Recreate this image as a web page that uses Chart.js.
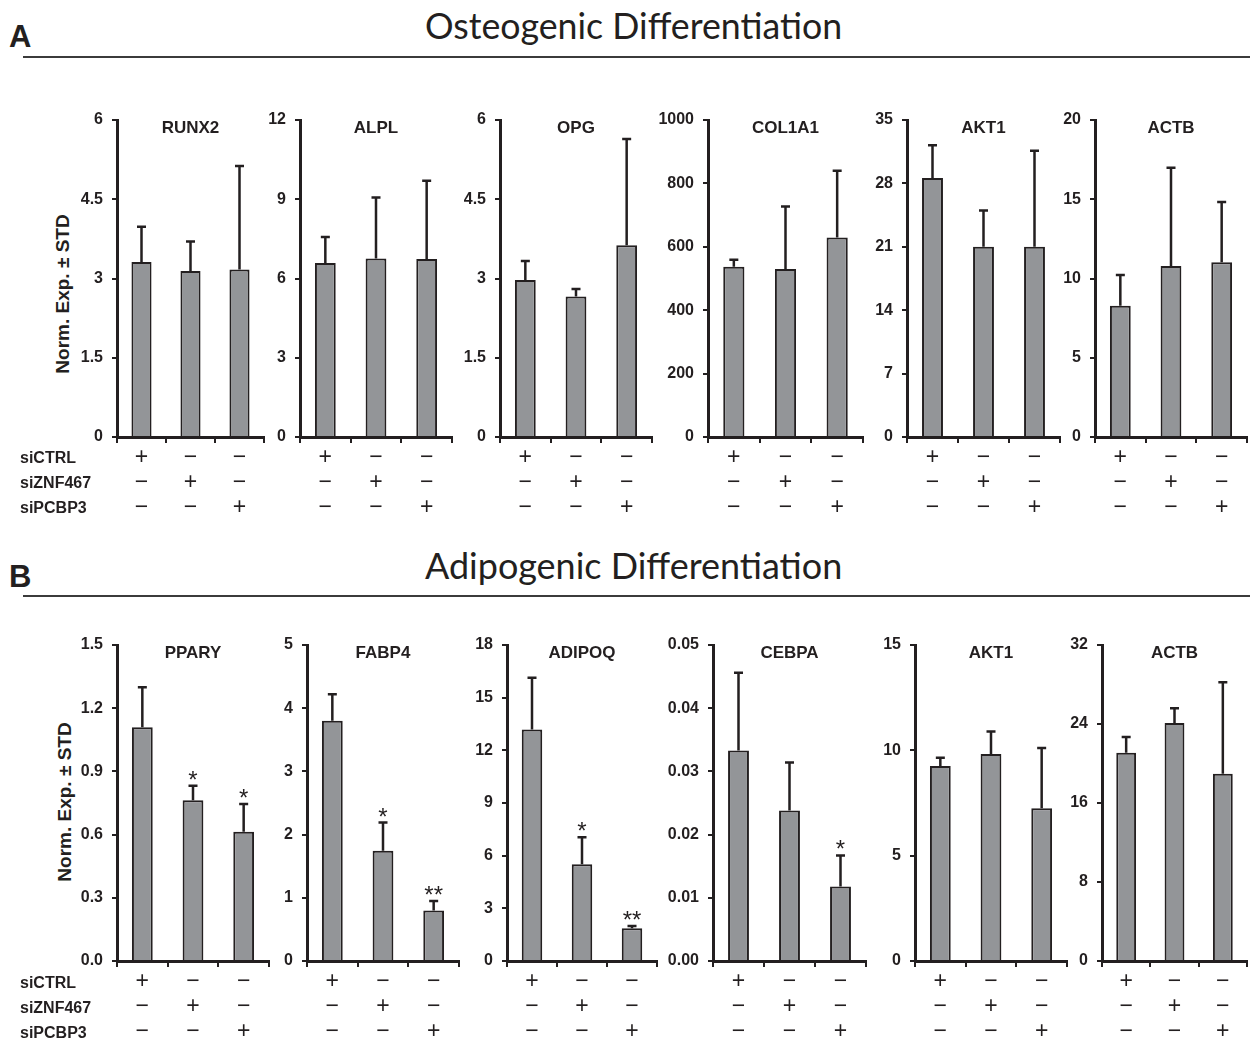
<!DOCTYPE html>
<html lang="en">
<head>
    <meta charset="UTF-8">
    <title>Osteogenic and Adipogenic Differentiation</title>
    <script src="https://cdn.jsdelivr.net/npm/chart.js"></script>
    <style>
        html, body {
            margin: 0;
            padding: 0;
            background: #ffffff;
            overflow: hidden;
        }
        #fig {
            position: relative;
            width: 1250px;
            height: 1044px;
            font-family: "Liberation Sans", Arial, sans-serif;
            color: #231f20;
        }
        .letter {
            position: absolute;
            font-weight: bold;
            font-size: 31px;
            line-height: 1;
        }
        .heading {
            position: absolute;
            font-family: Lato, "Open Sans", sans-serif;
            font-size: 34px;
            line-height: 1;
            white-space: nowrap;
            color: #231f20;
        }
        .rule {
            position: absolute;
            left: 23px;
            width: 1227px;
            height: 2px;
            background: #3b3b3b;
        }
        .rowlabel {
            position: absolute;
            left: 20px;
            font-weight: bold;
            font-size: 16px;
            line-height: 20px;
            margin-top: -10px;
        }
        .ytitle {
            position: absolute;
            font-weight: bold;
            font-size: 19px;
            white-space: nowrap;
            transform: translate(-50%, -50%) rotate(-90deg);
        }
        canvas {
            position: absolute;
        }
    </style>
</head>
<body>
<div id="fig">
    <div class="letter" style="left:9px; top:21px;">A</div>
    <div class="heading" id="headA" style="top:8px;">Osteogenic Differentiation</div>
    <div class="rule" style="top:56px;"></div>

    <div class="letter" style="left:9px; top:561px;">B</div>
    <div class="heading" id="headB" style="top:547px;">Adipogenic Differentiation</div>
    <div class="rule" style="top:595px;"></div>

    <div class="ytitle" style="left:63px; top:294px;">Norm. Exp. ± STD</div>
    <div class="ytitle" style="left:65px; top:802px;">Norm. Exp. ± STD</div>
</div>

<script>
    // ---- data ----
    const conditions = ['siCTRL', 'siZNF467', 'siPCBP3'];
    // one column of +/− marks under each bar
    const signColumns = [['+', '−', '−'], ['−', '+', '−'], ['−', '−', '+']];

    const osteoGenes = ['RUNX2', 'ALPL', 'OPG', 'COL1A1', 'AKT1', 'ACTB'];
    const osteoMeans = [
        [3.31, 3.14, 3.17],
        [6.59, 6.76, 6.74],
        [2.97, 2.66, 3.63],
        [537, 530, 629],
        [28.6, 21.0, 21.0],
        [8.28, 10.79, 11.02]
    ];
    const osteoStd = [
        [0.67, 0.56, 1.96],
        [0.98, 2.31, 2.96],
        [0.36, 0.14, 2.01],
        [22, 197, 211],
        [3.6, 4.0, 10.6],
        [1.94, 6.20, 3.81]
    ];
    const osteoTicks = [
        ['0', '1.5', '3', '4.5', '6'],
        ['0', '3', '6', '9', '12'],
        ['0', '1.5', '3', '4.5', '6'],
        ['0', '200', '400', '600', '800', '1000'],
        ['0', '7', '14', '21', '28', '35'],
        ['0', '5', '10', '15', '20']
    ];

    const adipoGenes = ['PPARY', 'FABP4', 'ADIPOQ', 'CEBPA', 'AKT1', 'ACTB'];
    const adipoMeans = [
        [1.109, 0.763, 0.614],
        [3.80, 1.745, 0.80],
        [13.18, 5.51, 1.86],
        [0.0333, 0.0238, 0.0118],
        [9.26, 9.83, 7.25],
        [21.1, 24.1, 18.97]
    ];
    const adipoStd = [
        [0.19, 0.069, 0.131],
        [0.42, 0.445, 0.15],
        [2.96, 1.54, 0.13],
        [0.0123, 0.0076, 0.0049],
        [0.39, 1.06, 2.86],
        [1.58, 1.49, 9.25]
    ];
    const adipoTicks = [
        ['0.0', '0.3', '0.6', '0.9', '1.2', '1.5'],
        ['0', '1', '2', '3', '4', '5'],
        ['0', '3', '6', '9', '12', '15', '18'],
        ['0.00', '0.01', '0.02', '0.03', '0.04', '0.05'],
        ['0', '5', '10', '15'],
        ['0', '8', '16', '24', '32']
    ];
    const adipoStars = [
        ['', '*', '*'],
        ['', '*', '**'],
        ['', '*', '**'],
        ['', '', '*'],
        ['', '', ''],
        ['', '', '']
    ];

    // ---- layout ----
    const INK = '#231f20';
    const BAR = '#939598';
    const Y_AXIS_W = 50;
    const PAD_TOP = 22;
    const PAD_RIGHT = 6;
    const X_AXIS_H = 82;
    const FONT = '"Liberation Sans", Arial, sans-serif';

    const rows = [
        { genes: osteoGenes, means: osteoMeans, std: osteoStd, ticks: osteoTicks, stars: null,
          top: 120, zero: 437, axisX: [117, 300, 500, 708, 907, 1095], len: [147, 152, 152, 155, 153, 152],
          labelY: [458, 483, 508] },
        { genes: adipoGenes, means: adipoMeans, std: adipoStd, ticks: adipoTicks, stars: adipoStars,
          top: 645, zero: 961, axisX: [117, 307, 507, 713, 915, 1102], len: [152, 152, 150, 153, 152, 145],
          labelY: [983, 1008, 1033] }
    ];

    const fig = document.getElementById('fig');

    // fit the section headings to the width they take in the figure
    ['headA', 'headB'].forEach(id => {
        const el = document.getElementById(id);
        const w = el.offsetWidth;
        el.style.fontSize = (34 * 417 / w) + 'px';
        el.style.left = '425px';
    });

    function panelPlugin(gene, means, std, stars) {
        return {
            id: 'panelDecor',
            afterDatasetsDraw(chart) {
                const ctx = chart.ctx;
                const area = chart.chartArea;
                const yScale = chart.scales.y;
                const meta = chart.getDatasetMeta(0);
                ctx.save();
                // gene name
                ctx.fillStyle = INK;
                ctx.font = 'bold 17px ' + FONT;
                ctx.textAlign = 'center';
                ctx.textBaseline = 'middle';
                ctx.fillText(gene, (area.left + area.right) / 2, area.top + 8);
                // upward error bars
                ctx.strokeStyle = INK;
                ctx.lineWidth = 2.5;
                meta.data.forEach((bar, i) => {
                    const yBase = yScale.getPixelForValue(means[i]);
                    const yTop = yScale.getPixelForValue(means[i] + std[i]);
                    ctx.beginPath();
                    ctx.moveTo(bar.x, yBase);
                    ctx.lineTo(bar.x, yTop);
                    ctx.moveTo(bar.x - 4.5, yTop);
                    ctx.lineTo(bar.x + 4.5, yTop);
                    ctx.stroke();
                    if (stars && stars[i]) {
                        ctx.font = '24px ' + FONT;
                        ctx.textBaseline = 'alphabetic';
                        ctx.fillText(stars[i], bar.x, yTop + 2);
                    }
                });
                ctx.restore();
            }
        };
    }

    function makePanel(row, p) {
        const tickLabels = row.ticks[p];
        const step = parseFloat(tickLabels[1]) - parseFloat(tickLabels[0]);
        const maxVal = parseFloat(tickLabels[tickLabels.length - 1]);
        const plotH = row.zero - row.top;

        const cv = document.createElement('canvas');
        cv.width = Y_AXIS_W + row.len[p] + PAD_RIGHT;
        cv.height = PAD_TOP + plotH + X_AXIS_H;
        cv.style.left = (row.axisX[p] - Y_AXIS_W) + 'px';
        cv.style.top = (row.top - PAD_TOP) + 'px';
        fig.appendChild(cv);

        new Chart(cv, {
            type: 'bar',
            data: {
                labels: signColumns,
                datasets: [{
                    data: row.means[p],
                    backgroundColor: BAR,
                    borderColor: INK,
                    borderWidth: 2,
                    barPercentage: 0.41,
                    categoryPercentage: 1
                }]
            },
            options: {
                responsive: false,
                animation: false,
                layout: { padding: { top: PAD_TOP, right: PAD_RIGHT, left: 0, bottom: 0 } },
                plugins: {
                    legend: { display: false },
                    tooltip: { enabled: false }
                },
                scales: {
                    x: {
                        offset: true,
                        grid: { drawOnChartArea: false, offset: true, tickLength: 6, color: INK, lineWidth: 2 },
                        border: { color: INK, width: 3 },
                        ticks: {
                            color: INK,
                            padding: 2,
                            maxRotation: 0,
                            autoSkip: false,
                            font: { family: FONT, size: 23, lineHeight: 1.087 }
                        },
                        afterFit: s => { s.height = X_AXIS_H; }
                    },
                    y: {
                        min: 0,
                        max: maxVal,
                        grid: { drawOnChartArea: false, tickLength: 5, color: INK, lineWidth: 2 },
                        border: { color: INK, width: 3 },
                        ticks: {
                            stepSize: step,
                            color: INK,
                            padding: 9,
                            font: { family: FONT, size: 16, weight: 'bold' },
                            callback: v => {
                                const t = tickLabels.find(l => Math.abs(parseFloat(l) - v) < step / 100);
                                return t === undefined ? '' : t;
                            }
                        },
                        afterFit: s => { s.width = Y_AXIS_W; }
                    }
                }
            },
            plugins: [panelPlugin(row.genes[p], row.means[p], row.std[p], row.stars ? row.stars[p] : null)]
        });
    }

    rows.forEach(row => {
        row.genes.forEach((g, p) => makePanel(row, p));
        conditions.forEach((c, k) => {
            const d = document.createElement('div');
            d.className = 'rowlabel';
            d.style.top = row.labelY[k] + 'px';
            d.textContent = c;
            fig.appendChild(d);
        });
    });
</script>
</body>
</html>
